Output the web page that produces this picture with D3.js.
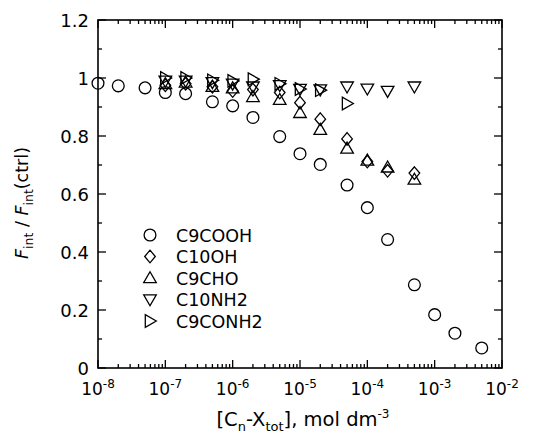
<!DOCTYPE html>
<html>
<head>
<meta charset="utf-8">
<script src="https://cdn.jsdelivr.net/npm/d3@7"></script>
<style>
html,body{margin:0;padding:0;background:#fff;}
svg{display:block;}
text{font-family:"DejaVu Sans","Liberation Sans",sans-serif;fill:#000;}
</style>
</head>
<body>
<svg id="chart" width="541" height="434"></svg>
<script>
const concentrations = [1e-8,2e-8,5e-8,1e-7,2e-7,5e-7,1e-6,2e-6,5e-6,1e-5,2e-5,5e-5,1e-4,2e-4,5e-4,1e-3,2e-3,5e-3];
const c9cooh  = [0.982,0.973,0.966,0.950,0.946,0.918,0.904,0.864,0.798,0.739,0.702,0.631,0.553,0.443,0.287,0.184,0.120,0.069];
const concShort = [1e-7,2e-7,5e-7,1e-6,2e-6,5e-6,1e-5,2e-5,5e-5,1e-4,2e-4,5e-4];
const c10oh   = [0.975,0.980,0.970,0.955,0.960,0.950,0.915,0.858,0.790,0.712,0.680,0.672];
const c9cho   = [0.980,0.985,0.970,0.965,0.935,0.925,0.880,0.822,0.757,0.716,0.692,0.650];
const c10nh2  = [0.990,0.990,0.985,0.980,0.970,0.975,0.962,0.960,0.970,0.963,0.955,0.970];
const concAmide = [1e-7,2e-7,5e-7,1e-6,2e-6,5e-6,1e-5,2e-5,5e-5];
const c9conh2 = [1.000,1.000,0.992,0.990,0.996,0.980,0.962,0.958,0.912];
const xTickLabels = ["-8","-7","-6","-5","-4","-3","-2"];
const yTickValues = [0,0.2,0.4,0.6,0.8,1,1.2];
const legendNames = ["C9COOH","C10OH","C9CHO","C10NH2","C9CONH2"];

const series = [
  {name:legendNames[0], shape:"circle", xs:concentrations, ys:c9cooh},
  {name:legendNames[1], shape:"diamond", xs:concShort, ys:c10oh},
  {name:legendNames[2], shape:"up", xs:concShort, ys:c9cho},
  {name:legendNames[3], shape:"down", xs:concShort, ys:c10nh2},
  {name:legendNames[4], shape:"right", xs:concAmide, ys:c9conh2}
];

const svg = d3.select("#chart");
const L=98, R=502, T=20, B=368;
const x = d3.scaleLog().domain([1e-8,1e-2]).range([L,R]);
const y = d3.scaleLinear().domain([0,1.2]).range([B,T]);

function shapePath(s){
  const r=5.9;
  switch(s){
    case "circle": return `M${r},0A${r},${r} 0 1,1 ${-r},0A${r},${r} 0 1,1 ${r},0Z`;
    case "diamond": return `M0,-6.3L5.3,0L0,6.3L-5.3,0Z`;
    case "up": return `M0,-6.3L6.3,4.7L-6.3,4.7Z`;
    case "down": return `M0,6.3L6.3,-4.7L-6.3,-4.7Z`;
    case "right": return `M6.3,0L-4.7,-6.3L-4.7,6.3Z`;
  }
}

// frame
svg.append("rect").attr("x",L).attr("y",T).attr("width",R-L).attr("height",B-T)
  .attr("fill","none").attr("stroke","#000").attr("stroke-width",1.6);

const decades = d3.range(-8,-1);
const xMinor = [];
for(let d=-8; d<-2; d++) for(let m=2;m<=9;m++) xMinor.push(m*Math.pow(10,d));
const g = svg.append("g").attr("stroke","#000").attr("stroke-width",1.3);
decades.forEach(d=>{
  const px = x(Math.pow(10,d));
  g.append("line").attr("x1",px).attr("x2",px).attr("y1",B).attr("y2",B-8);
  g.append("line").attr("x1",px).attr("x2",px).attr("y1",T).attr("y2",T+8);
});
xMinor.forEach(v=>{
  const px = x(v);
  g.append("line").attr("x1",px).attr("x2",px).attr("y1",B).attr("y2",B-4);
  g.append("line").attr("x1",px).attr("x2",px).attr("y1",T).attr("y2",T+4);
});
d3.range(0,1.21,0.1).forEach((v,i)=>{
  const py = y(v);
  const len = (i%2===0)?8:4;
  g.append("line").attr("x1",L).attr("x2",L+len).attr("y1",py).attr("y2",py);
  g.append("line").attr("x1",R).attr("x2",R-len).attr("y1",py).attr("y2",py);
});

// x tick labels
decades.forEach((d,i)=>{
  const t = svg.append("text").attr("x",x(Math.pow(10,d))).attr("y",395)
    .attr("text-anchor","middle").attr("font-size",17);
  t.append("tspan").text("10");
  t.append("tspan").attr("dy",-7).attr("font-size",12).text(xTickLabels[i]);
});
// y tick labels
yTickValues.forEach(v=>{
  svg.append("text").attr("x",L-9).attr("y",y(v)+6.5)
    .attr("text-anchor","end").attr("font-size",18)
    .text(d3.format("~g")(v));
});

// axis titles
const xt = svg.append("text").attr("x",303).attr("y",426).attr("text-anchor","middle").attr("font-size",19.5);
xt.append("tspan").text("[C");
xt.append("tspan").attr("dy",5).attr("font-size",13).text("n");
xt.append("tspan").attr("dy",-5).text("-X");
xt.append("tspan").attr("dy",5).attr("font-size",13).text("tot");
xt.append("tspan").attr("dy",-5).text("], mol dm");
xt.append("tspan").attr("dy",-8).attr("font-size",12).text("-3");

const yt = svg.append("text").attr("transform","translate(28,203) rotate(-90)").attr("text-anchor","middle").attr("font-size",17.5);
yt.append("tspan").attr("font-style","italic").text("F");
yt.append("tspan").attr("dy",5).attr("font-size",12.5).text("int");
yt.append("tspan").attr("dy",-5).text(" / ");
yt.append("tspan").attr("font-style","italic").text("F");
yt.append("tspan").attr("dy",5).attr("font-size",12.5).text("int");
yt.append("tspan").attr("dy",-5).text("(ctrl)");

// markers
series.forEach(s=>{
  svg.append("g").selectAll("path").data(s.xs.map((v,i)=>[v,s.ys[i]])).join("path")
    .attr("d",shapePath(s.shape))
    .attr("transform",d=>`translate(${x(d[0])},${y(d[1])})`)
    .attr("fill","none").attr("stroke","#000").attr("stroke-width",1.3);
});

// legend
series.forEach((s,i)=>{
  const ly = 235 + i*21.5;
  svg.append("path").attr("d",shapePath(s.shape)).attr("transform",`translate(150,${ly})`)
    .attr("fill","none").attr("stroke","#000").attr("stroke-width",1.3);
  svg.append("text").attr("x",176).attr("y",ly+6.5).attr("font-size",17.5).text(s.name);
});
</script>
</body>
</html>
